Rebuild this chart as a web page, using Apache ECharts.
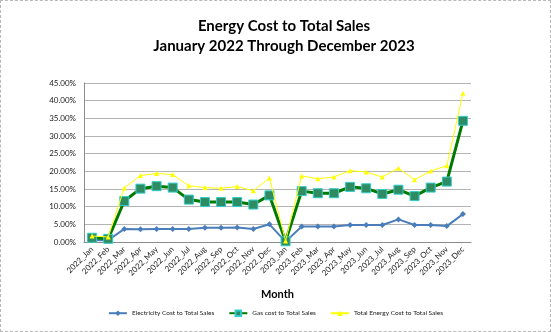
<!DOCTYPE html>
<html>
<head>
<meta charset="utf-8">
<script src="https://cdn.jsdelivr.net/npm/echarts@6/dist/echarts.min.js"></script>
<style>
  html, body { margin: 0; padding: 0; background: #fff; }
  #chart { width: 551px; height: 332px; box-sizing: border-box; border: 1px dashed #b8b8b8; }
</style>
</head>
<body>
<div id="chart"></div>
<script>
// Monthly categories, Jan 2022 – Dec 2023
const months = [
  '2022_Jan', '2022_Feb', '2022_Mar', '2022_Apr', '2022_May', '2022_Jun',
  '2022_Jul', '2022_Aug', '2022_Sep', '2022_Oct', '2022_Nov', '2022_Dec',
  '2023_Jan', '2023_Feb', '2023_Mar', '2023_Apr', '2023_May', '2023_Jun',
  '2023_Jul', '2023_Aug', '2023_Sep', '2023_Oct', '2023_Nov', '2023_Dec'
];

// Ratios in percent
const electricity = [0.5, 0.5, 3.7, 3.6, 3.7, 3.7, 3.7, 4.0, 4.0, 4.1, 3.7, 5.0,
                     0.1, 4.4, 4.4, 4.4, 4.8, 4.8, 4.8, 6.4, 4.8, 4.8, 4.5, 7.9];
const gas = [1.2, 0.9, 11.6, 15.1, 15.8, 15.4, 12.0, 11.3, 11.3, 11.3, 10.6, 13.2,
             0.2, 14.4, 13.8, 13.8, 15.6, 15.2, 13.6, 14.8, 13.0, 15.4, 17.1, 34.3];
const totalEnergy = [1.7, 1.4, 15.3, 18.8, 19.4, 19.1, 15.9, 15.4, 15.2, 15.7, 14.5, 18.1,
                     0.3, 18.7, 17.9, 18.4, 20.2, 19.8, 18.4, 20.9, 17.6, 20.1, 21.6, 42.1];

const seriesNames = ['Electricity Cost to Total Sales', 'Gas cost to Total Sales', 'Total Energy Cost to Total Sales'];

const chart = echarts.init(document.getElementById('chart'));
const font = 'Lato, "Open Sans", sans-serif';

chart.setOption({
  animation: false,
  textStyle: { fontFamily: font },
  title: {
    text: 'Energy Cost to Total Sales\nJanuary 2022 Through December 2023',
    left: 278, textAlign: 'center', top: 10,
    textStyle: { fontSize: 15, fontWeight: 'bold', color: '#000', lineHeight: 20, fontFamily: font }
  },
  legend: {
    bottom: 9, left: 'center',
    itemWidth: 18, itemHeight: 7, itemGap: 14,
    textStyle: { fontSize: 6.5, color: '#222', fontFamily: font },
    data: seriesNames
  },
  grid: { left: 83, right: 79, top: 82, bottom: 89 },
  xAxis: {
    type: 'category',
    data: months,
    boundaryGap: true,
    name: 'Month',
    nameLocation: 'middle',
    nameGap: 47,
    nameTextStyle: { fontSize: 11, fontWeight: 'bold', color: '#000', fontFamily: font },
    axisLine: { lineStyle: { color: '#8c8c8c' } },
    axisTick: { alignWithLabel: false, length: 4, lineStyle: { color: '#8c8c8c' } },
    axisLabel: { interval: 0, rotate: 45, fontSize: 8, color: '#222', margin: 6, fontFamily: font }
  },
  yAxis: {
    type: 'value',
    min: 0, max: 45, interval: 5,
    axisLine: { show: true, lineStyle: { color: '#8c8c8c' } },
    axisTick: { show: false },
    splitLine: { lineStyle: { color: '#b4b4b4', width: 1 } },
    axisLabel: {
      fontSize: 8, color: '#222', margin: 8, fontFamily: font,
      formatter: v => v.toFixed(2) + '%'
    }
  },
  series: [
    {
      name: seriesNames[0], type: 'line', data: electricity, z: 3,
      symbol: 'diamond', symbolSize: 6,
      lineStyle: { color: '#4a7ebb', width: 2 },
      itemStyle: { color: '#4a7ebb' }
    },
    {
      name: seriesNames[1], type: 'line', data: gas, z: 4,
      symbol: 'rect', symbolSize: 9,
      lineStyle: { color: '#007a00', width: 3 },
      itemStyle: { color: '#2e8b62', borderColor: '#33cccc', borderWidth: 1 }
    },
    {
      name: seriesNames[2], type: 'line', data: totalEnergy, z: 5,
      symbol: 'triangle', symbolSize: 5,
      lineStyle: { color: '#ffff00', width: 1 },
      itemStyle: { color: '#ffff00' }
    }
  ]
});
</script>
</body>
</html>
